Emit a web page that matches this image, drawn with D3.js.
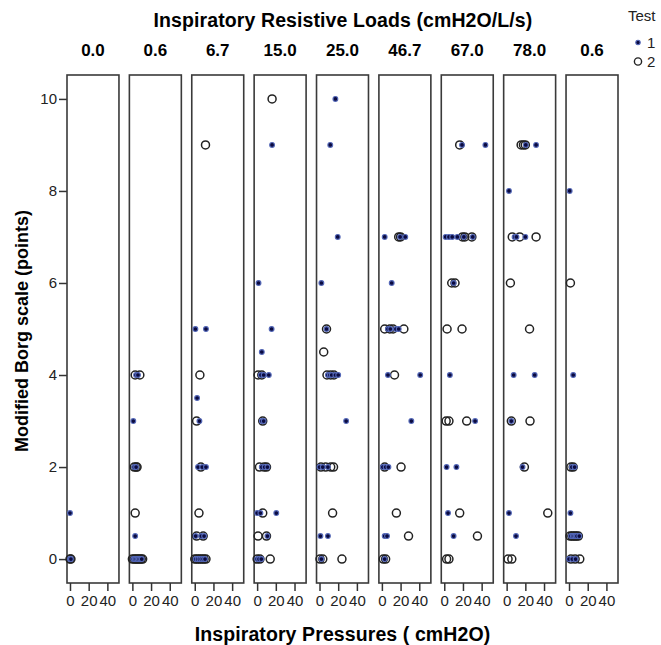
<html>
  <head>
    <script src="https://d3js.org/d3.v7.min.js"></script>
    <style>
      body { margin: 0; background: #fff; }
      text { font-family: "Liberation Sans", Arial, sans-serif; }
    </style>
  </head>
  <body>
    <script>
      // panel headers (resistive load, cmH2O/L/s)
      var loads = ["0.0", "0.6", "6.7", "15.0", "25.0", "46.7", "67.0", "78.0", "0.6"];
      var borgTicks = [0, 2, 4, 6, 8, 10];
      var pressureTicks = [0, 20, 40];

      // [pressure, borg] per panel, test 1
      var test1 = [
        [[0,1],[0,0],[1,0]],
        [[4,4],[6,4],[1,3],[2,2],[4,2],[3,0.5],[1,0],[2.5,0],[4,0],[5.5,0],[7,0],[8.5,0],[10,0]],
        [[0.7,5],[12,5],[2.5,3.5],[5,3],[3.5,2],[8,2],[12,2],[1,0.5],[7,0.5],[10,0.5],[1,0],[3,0],[5,0],[7,0],[9,0],[11,0]],
        [[16,9],[1.5,6],[15.5,5],[5,4.5],[4,4],[7,4],[12.5,4],[5,3],[7,3],[5,2],[8,2],[11,2],[0,1],[3.5,1],[20.5,1],[11,0.5],[0,0],[2,0],[4.5,0]],
        [[17,10],[11.5,9],[19.5,7],[2,6],[7.5,5],[9,4],[11,4],[13,4],[17,4],[20,4],[28.5,3],[0,2],[3.5,2],[9,2],[1,0.5],[9,0.5],[2,0]],
        [[3,7],[19.5,7],[25,7],[10.5,6],[6.5,5],[9,5],[15,5],[18,5],[6.5,4],[41,4],[31.5,3],[1,2],[4,2],[7,2],[3,0.5],[5.5,0.5],[3,0]],
        [[19,9],[44,9],[1.5,7],[5,7],[8.5,7],[14,7],[21,7],[30.5,7],[10,6],[6,4],[33,3],[2.5,2],[13,2],[4,1],[10,0.5]],
        [[20.5,9],[31.5,9],[2.5,8],[8.5,7],[10.5,7],[20,7],[7.5,4],[30,4],[5,3],[17,2],[2.5,1],[10,0.5]],
        [[0.7,8],[4.5,4],[3,2],[6,2],[1.5,1],[2,0.5],[4,0.5],[5.5,0.5],[7,0.5],[8.5,0.5],[11,0.5],[0,0],[3.5,0],[7,0]]
      ];

      // [pressure, borg] per panel, test 2
      var test2 = [
        [[0,0],[1,0]],
        [[3,4],[8,4],[2,2],[4,2],[5,2],[3,1],[0,0],[2,0],[3.5,0],[5,0],[6.5,0],[8,0],[9.5,0],[11,0]],
        [[11.5,9],[5.5,4],[2,3],[6.5,2],[4.5,1],[2,0.5],[9,0.5],[0,0],[2,0],[4,0],[6,0],[8,0],[10,0],[12,0]],
        [[16,10],[1,4],[5,4],[6,3],[2.5,2],[7.5,2],[10,2],[6,1],[1,0.5],[10,0.5],[0,0],[3,0],[14,0]],
        [[7.5,5],[4.5,4.5],[8,4],[12,4],[15.5,4],[1.5,2],[6.5,2],[12,2],[15,2],[14,1],[0.5,0],[3.5,0],[24,0]],
        [[18,7],[20,7],[3,5],[8.5,5],[12,5],[23.5,5],[13.5,4],[3,2],[20.5,2],[15.5,1],[28.5,0.5],[1.5,0],[4,0]],
        [[16.5,9],[19.5,7],[22,7],[29.5,7],[8,6],[11.5,6],[3,5],[19,5],[2,3],[5,3],[24,3],[16.5,1],[35.5,0.5],[2.5,0],[5,0]],
        [[15.5,9],[18,9],[20,9],[6,7],[14,7],[31.5,7],[4,6],[24.5,5],[5,3],[25,3],[19,2],[44,1],[1.5,0],[5.5,0]],
        [[1.5,6],[2,2],[4.5,2],[1,0.5],[3,0.5],[4.5,0.5],[6.5,0.5],[8,0.5],[10,0.5],[2,0],[6.5,0],[11.5,0]]
      ];

      var width = 661
      var height = 645

      var svg = d3.select("body").append("svg")
        .attr("width", width)
        .attr("height", height);

      // scales
      var panelX = d3.scaleBand()
        .domain(d3.range(loads.length))
        .range([67, 618])
        .paddingInner(0.167);

      var pw = panelX.bandwidth();

      var x = d3.scaleLinear().domain([-3.2, 52.4]).range([0, pw]);
      var y = d3.scaleLinear().domain([-0.52, 10.52]).range([583, 75]);

      // titles
      svg.append("text")
        .attr("x", 343).attr("y", 27)
        .attr("text-anchor", "middle")
        .style("font-size", "19.5px").style("font-weight", "bold")
        .style("letter-spacing", "0.1px")
        .text("Inspiratory Resistive Loads (cmH2O/L/s)");

      svg.append("text")
        .attr("x", 342.5).attr("y", 641)
        .attr("text-anchor", "middle")
        .style("font-size", "19.5px").style("font-weight", "bold")
        .style("letter-spacing", "0.1px")
        .text("Inspiratory Pressures ( cmH2O)");

      svg.append("text")
        .attr("transform", "translate(28,331) rotate(-90)")
        .attr("text-anchor", "middle")
        .style("font-size", "18px").style("font-weight", "bold")
        .text("Modified Borg scale (points)");

      // y axis on the first panel only
      svg.append("g")
        .attr("transform", "translate(" + panelX(0) + ",0)")
        .call(d3.axisLeft(y).tickValues(borgTicks).tickSize(8).tickPadding(2))
        .call(g => g.select(".domain").remove())
        .call(g => g.selectAll("line").attr("stroke", "#333").attr("stroke-width", 1.5))
        .call(g => g.selectAll("text").style("font-size", "15px").attr("fill", "#222")
          .style("font-family", "'Liberation Sans', Arial, sans-serif"));

      // panels
      loads.forEach(function(load, i) {
        var g = svg.append("g").attr("transform", "translate(" + panelX(i) + ",0)");

        g.append("text")
          .attr("x", pw / 2).attr("y", 56)
          .attr("text-anchor", "middle")
          .style("font-size", "17px").style("font-weight", "bold")
          .text(load);

        g.append("rect")
          .attr("x", 0).attr("y", 75)
          .attr("width", pw).attr("height", 508)
          .attr("fill", "white")
          .style("stroke", "#3a3a3a")
          .style("stroke-width", 1.6);

        g.append("g")
          .attr("transform", "translate(0,583)")
          .call(d3.axisBottom(x).tickValues(pressureTicks).tickSize(8).tickPadding(4))
          .call(a => a.select(".domain").remove())
          .call(a => a.selectAll("line").attr("stroke", "#333").attr("stroke-width", 1.5))
          .call(a => a.selectAll("text").style("font-size", "15px").attr("fill", "#222")
            .style("font-family", "'Liberation Sans', Arial, sans-serif"));

        g.selectAll(".t2")
          .data(test2[i])
          .join("circle")
          .attr("cx", d => x(d[0]))
          .attr("cy", d => y(d[1]))
          .attr("r", 4)
          .attr("fill", "none")
          .style("stroke", "#222")
          .style("stroke-width", 1.5);

        g.selectAll(".t1")
          .data(test1[i])
          .join("circle")
          .attr("cx", d => x(d[0]))
          .attr("cy", d => y(d[1]))
          .attr("r", 2.4)
          .attr("fill", "#0b0b40")
          .style("stroke", "#5468b8")
          .style("stroke-width", 1.1);
      });

      // legend
      svg.append("text")
        .attr("x", 628).attr("y", 21)
        .style("font-size", "15px").attr("fill", "#222")
        .text("Test");

      svg.append("circle")
        .attr("cx", 638).attr("cy", 42.5).attr("r", 2.2)
        .attr("fill", "#0b0b40").style("stroke", "#5468b8").style("stroke-width", 1.1);
      svg.append("text")
        .attr("x", 647).attr("y", 48)
        .style("font-size", "15px").attr("fill", "#222")
        .text("1");

      svg.append("circle")
        .attr("cx", 638).attr("cy", 61.5).attr("r", 3.6)
        .attr("fill", "none").style("stroke", "#222").style("stroke-width", 1.4);
      svg.append("text")
        .attr("x", 647).attr("y", 67)
        .style("font-size", "15px").attr("fill", "#222")
        .text("2");
    </script>
  </body>
</html>
